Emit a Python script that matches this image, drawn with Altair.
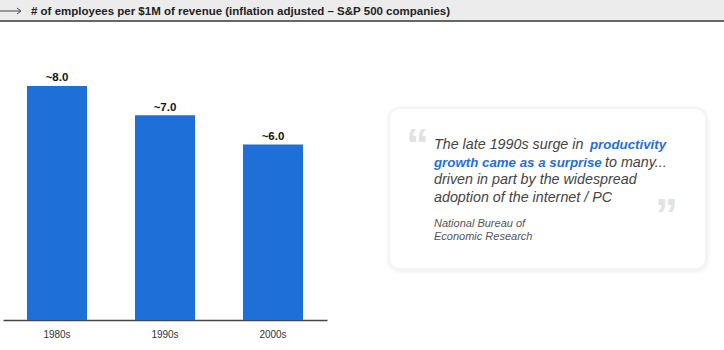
import altair as alt
import pandas as pd

# ---- data ----
decades = ["1980s", "1990s", "2000s"]
employees = [8.0, 7.0, 6.0]
value_labels = ["~8.0", "~7.0", "~6.0"]

title_text = "# of employees per $1M of revenue (inflation adjusted \u2013 S&P 500 companies)"
quote_l1a = "The late 1990s surge in"
quote_l1b = "productivity"
quote_l2a = "growth came as a surprise"
quote_l2b = "to many..."
quote_l3 = "driven in part by the widespread"
quote_l4 = "adoption of the internet / PC"
source_l1 = "National Bureau of"
source_l2 = "Economic Research"

BLUE = "#1f6fd9"
FONT = "Liberation Sans"

df = pd.DataFrame({"decade": decades, "value": employees, "label": value_labels})
one = pd.DataFrame({"d": [0]})

x = alt.X("decade:N", sort=decades,
          scale=alt.Scale(range=[3, 327], paddingInner=0, paddingOuter=0),
          axis=alt.Axis(title=None, ticks=False, labelAngle=0, labelFontSize=10,
                        labelColor="#333", labelFont=FONT, labelPadding=9,
                        domainColor="#444", domainWidth=1.5))
y = alt.Y("value:Q", scale=alt.Scale(domain=[0, 10.94], nice=False, zero=True), axis=None)

bars = alt.Chart(df).mark_bar(size=60, color=BLUE).encode(x=x, y=y)
labels = alt.Chart(df).mark_text(dy=-4.5, baseline="alphabetic", fontSize=11.5, fontWeight="bold",
                                 font=FONT, color="#111").encode(
    x=alt.X("decade:N", sort=decades), y="value:Q", text="label:N")

def vrect(x1, x2, y1, y2, **kw):
    return alt.Chart(one).mark_rect(**kw).encode(
        x=alt.value(x1), x2=alt.value(x2), y=alt.value(y1), y2=alt.value(y2))

def vrule(x1, x2, y1, y2, **kw):
    return alt.Chart(one).mark_rule(**kw).encode(
        x=alt.value(x1), x2=alt.value(x2), y=alt.value(y1), y2=alt.value(y2))

def vtext(txt, xp, yp, **kw):
    return alt.Chart(one).mark_text(align="left", baseline="alphabetic", font=FONT, **kw).encode(
        x=alt.value(xp), y=alt.value(yp), text=alt.value(txt))

header_bg = vrect(0, 724, 0, 20, fill="#ececec")
header_line = vrule(0, 724, 21, 21, stroke="#333", strokeWidth=1.5)
arrow = vrule(0, 21, 11, 11, stroke="#444", strokeWidth=1)
arrow_h1 = vrule(17, 21, 8, 11, stroke="#444", strokeWidth=1)
arrow_h2 = vrule(17, 21, 14, 11, stroke="#444", strokeWidth=1)
title = vtext(title_text, 31, 15, fontSize=11.5, fontWeight="bold", color="#222")

shadow1 = vrect(386, 710, 106, 274, fill="#000", opacity=0.02, cornerRadius=14)
shadow2 = vrect(388, 708, 107, 272, fill="#000", opacity=0.025, cornerRadius=12)
card = vrect(390, 705, 109, 268, fill="white", cornerRadius=10)

oq = vtext("\u201c", 406, 161, fontSize=46, fontWeight="bold", color="#e3e3e3")
cq = vtext("\u201d", 655, 231, fontSize=46, fontWeight="bold", color="#e3e3e3")

QS = 14.3
BS = 13.3
q1a = vtext(quote_l1a, 434, 149, fontSize=QS, fontStyle="italic", color="#444")
q1b = vtext(quote_l1b, 590, 149, fontSize=BS, fontStyle="italic", fontWeight="bold", color=BLUE)
q2a = vtext(quote_l2a, 434, 166.5, fontSize=BS, fontStyle="italic", fontWeight="bold", color=BLUE)
q2b = vtext(quote_l2b, 605, 166.5, fontSize=QS, fontStyle="italic", color="#444")
q3 = vtext(quote_l3, 434, 184, fontSize=QS, fontStyle="italic", color="#444")
q4 = vtext(quote_l4, 434, 201.5, fontSize=QS, fontStyle="italic", color="#444")
s1 = vtext(source_l1, 434, 227, fontSize=11, fontStyle="italic", color="#555")
s2 = vtext(source_l2, 434, 240, fontSize=11, fontStyle="italic", color="#555")

chart = alt.layer(
    header_bg, header_line, arrow, arrow_h1, arrow_h2, title,
    bars, labels,
    shadow1, shadow2, card, oq, cq, q1a, q1b, q2a, q2b, q3, q4, s1, s2,
).properties(
    width=724, height=320,
    autosize=alt.AutoSizeParams(type="none"),
    padding={"left": 0, "top": 0, "right": 0, "bottom": 30},
    background="white",
).configure_view(stroke=None)

chart.save("out.html", embed_options={"renderer": "svg", "actions": False})
